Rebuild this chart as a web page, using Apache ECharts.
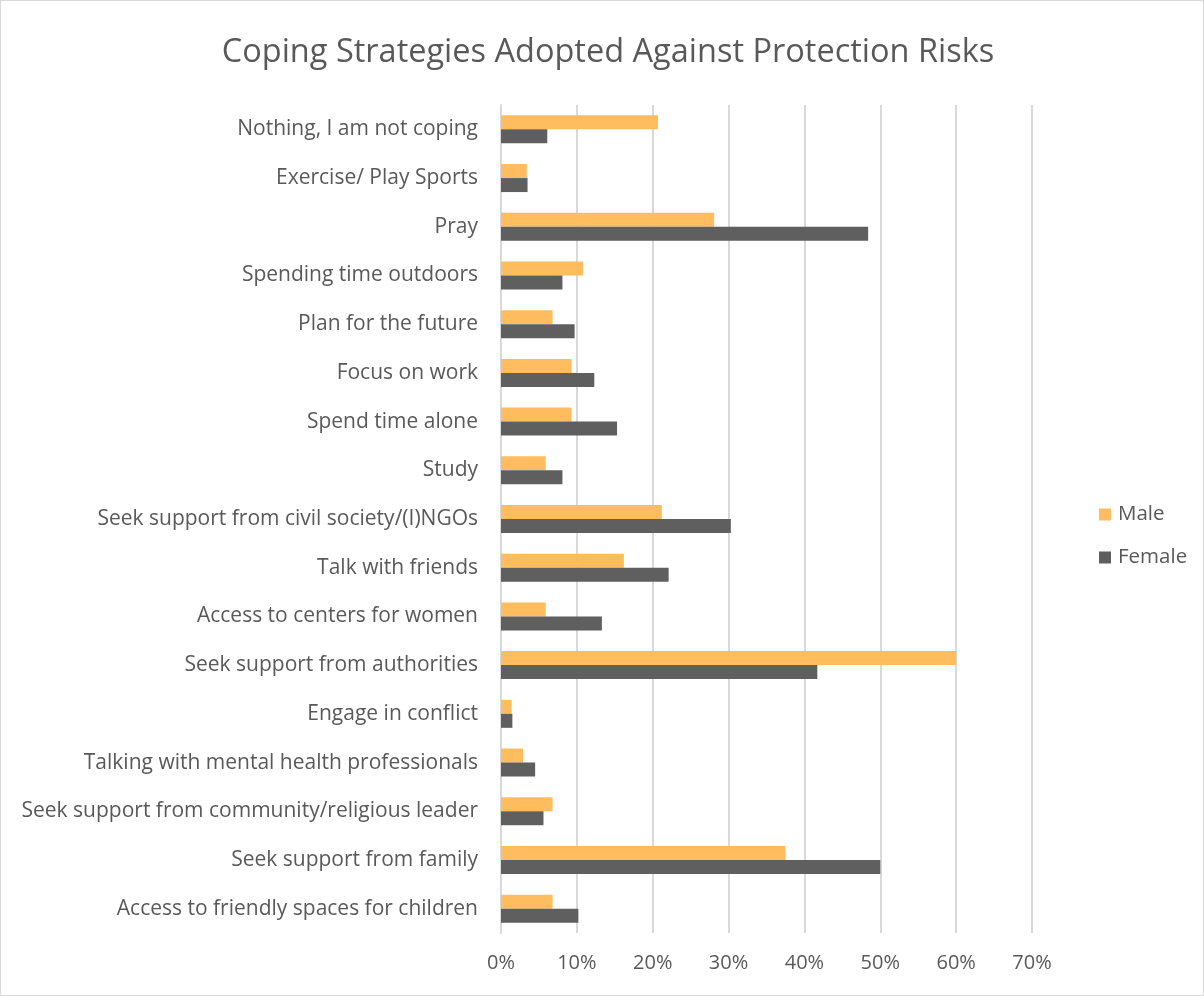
<!DOCTYPE html>
<html>
<head>
<meta charset="utf-8">
<script src="https://cdn.jsdelivr.net/npm/echarts@6/dist/echarts.min.js"></script>
<style>
  html, body { margin: 0; padding: 0; background: #fff; }
  #chart { width: 1204px; height: 996px; box-sizing: border-box; border: 1px solid #d9d9d9; }
</style>
</head>
<body>
<div id="chart"></div>
<script>
// categories, top to bottom as in the picture
const categories = [
  'Nothing, I am not coping',
  'Exercise/ Play Sports',
  'Pray',
  'Spending time outdoors',
  'Plan for the future',
  'Focus on work',
  'Spend time alone',
  'Study',
  'Seek support from civil society/(I)NGOs',
  'Talk with friends',
  'Access to centers for women',
  'Seek support from authorities',
  'Engage in conflict',
  'Talking with mental health professionals',
  'Seek support from community/religious leader',
  'Seek support from family',
  'Access to friendly spaces for children'
];

// percent values
const maleValues = [20.7, 3.4, 28.1, 10.8, 6.8, 9.3, 9.3, 5.9, 21.2, 16.2, 5.9, 60.0, 1.4, 2.9, 6.8, 37.5, 6.8];
const femaleValues = [6.1, 3.5, 48.4, 8.1, 9.7, 12.3, 15.3, 8.1, 30.3, 22.1, 13.3, 41.7, 1.5, 4.5, 5.6, 50.0, 10.2];

const xTicks = [0, 10, 20, 30, 40, 50, 60, 70];

const textColor = '#595959';
const fontFamily = '"Open Sans", Lato, sans-serif';

const chart = echarts.init(document.getElementById('chart'));

const option = {
  backgroundColor: '#fff',
  animation: false,
  textStyle: { fontFamily: fontFamily },
  title: {
    text: 'Coping Strategies Adopted Against Protection Risks',
    left: 602,
    top: 30,
    textAlign: 'center',
    textStyle: { fontSize: 32.5, fontWeight: 'normal', color: textColor, fontFamily: fontFamily }
  },
  legend: {
    orient: 'vertical',
    left: 1093,
    top: 498,
    itemWidth: 12,
    itemHeight: 12,
    itemGap: 22,
    icon: 'rect',
    textStyle: { fontSize: 20.5, color: textColor, fontFamily: fontFamily, padding: [0, 0, 0, 2] },
    data: ['Male', 'Female']
  },
  grid: {
    left: 500,
    right: 171,
    top: 104,
    bottom: 62,
    containLabel: false
  },
  xAxis: {
    type: 'value',
    min: xTicks[0],
    max: xTicks[xTicks.length - 1],
    interval: 10,
    axisLine: { show: false },
    axisTick: { show: false },
    axisLabel: {
      formatter: '{value}%',
      fontSize: 20,
      color: textColor,
      margin: 20,
      fontFamily: fontFamily
    },
    splitLine: { show: true, lineStyle: { color: '#d9d9d9', width: 2 } }
  },
  yAxis: {
    type: 'category',
    inverse: true,
    data: categories,
    axisLine: { show: true, lineStyle: { color: '#d9d9d9', width: 2 } },
    axisTick: { show: false },
    axisLabel: {
      fontSize: 21,
      color: textColor,
      margin: 23,
      fontFamily: fontFamily
    }
  },
  series: [
    {
      name: 'Male',
      type: 'bar',
      data: maleValues,
      barWidth: 14,
      barGap: '0%',
      itemStyle: { color: '#FFBD5F' }
    },
    {
      name: 'Female',
      type: 'bar',
      data: femaleValues,
      barWidth: 14,
      barGap: '0%',
      itemStyle: { color: '#5F5F5F' }
    }
  ]
};

chart.setOption(option);
</script>
</body>
</html>
